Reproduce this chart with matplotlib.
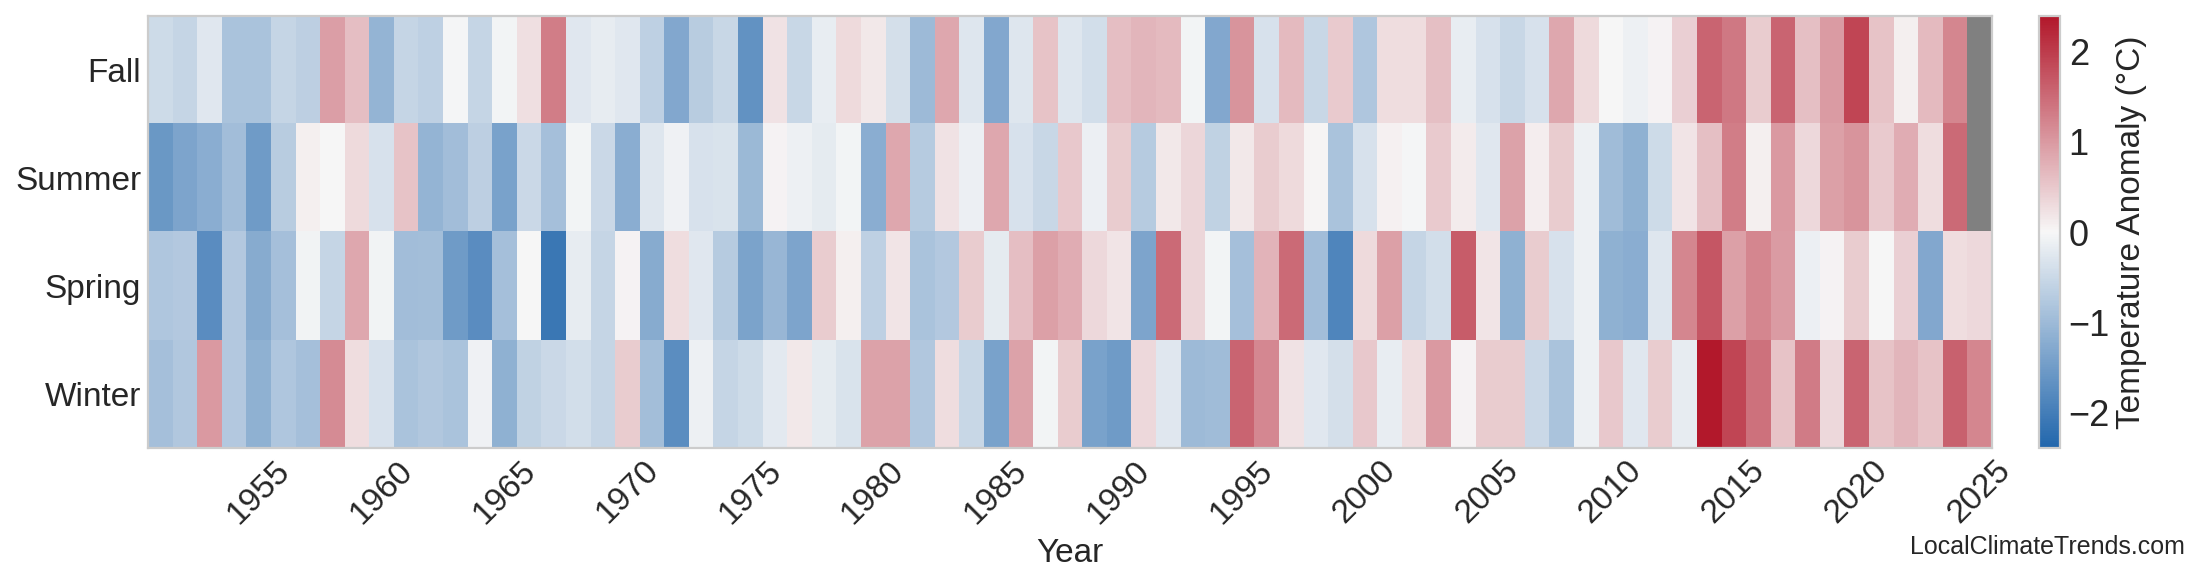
import numpy as np
import matplotlib
matplotlib.use("Agg")
import matplotlib.pyplot as plt
from matplotlib.colors import LinearSegmentedColormap
import seaborn as sns

# --- DATA: seasonal temperature anomaly (°C), 1951-2025 ---
years = list(range(1951, 2026))
seasons = ["Fall", "Summer", "Spring", "Winter"]

fall = [-0.45, -0.55, -0.25, -0.85, -0.85, -0.55, -0.65, 0.95, 0.6, -1.1,
        -0.55, -0.62, -0.03, -0.55, -0.05, 0.25, 1.3, -0.25, -0.18, -0.25,
        -0.62, -1.3, -0.7, -0.52, -1.65, 0.22, -0.52, -0.15, 0.3, 0.15,
        -0.38, -1.0, 0.85, -0.27, -1.3, -0.27, 0.55, -0.27, -0.4, 0.6,
        0.7, 0.65, -0.05, -1.3, 1.05, -0.35, 0.65, -0.52, 0.48, -0.8,
        0.27, 0.27, 0.58, -0.15, -0.35, -0.52, -0.35, 0.85, 0.3, 0.0,
        -0.1, 0.04, 0.42, 1.55, 1.35, 0.45, 1.55, 0.58, 0.98, 1.9,
        0.55, 0.08, 0.65, 1.2, np.nan]
summer = [-1.55, -1.35, -1.2, -0.95, -1.5, -0.7, 0.08, 0.0, 0.3, -0.35,
          0.55, -1.1, -0.95, -0.65, -1.4, -0.5, -0.9, -0.05, -0.5, -1.2,
          -0.27, -0.08, -0.35, -0.32, -1.02, 0.05, -0.1, -0.2, -0.05, -1.2,
          0.85, -0.72, 0.22, -0.12, 0.85, -0.35, -0.52, 0.5, -0.12, 0.45,
          -0.72, 0.15, 0.35, -0.6, 0.15, 0.45, 0.3, 0.02, -0.85, -0.35,
          0.06, -0.02, 0.48, 0.12, -0.25, 0.9, 0.1, 0.45, -0.1, -0.97,
          -1.15, -0.45, 0.2, 0.58, 1.3, 0.08, 1.0, 0.33, 0.93, 1.05,
          0.48, 0.8, 0.27, 1.5, np.nan]
spring = [-0.8, -0.75, -1.75, -0.75, -1.25, -0.9, -0.07, -0.55, 0.85, -0.07,
          -0.95, -0.93, -1.5, -1.75, -0.9, 0.0, -2.1, -0.18, -0.55, 0.05,
          -1.25, 0.27, -0.25, -0.72, -1.38, -1.05, -1.35, 0.45, 0.08, -0.62,
          0.2, -0.85, -0.75, 0.45, -0.2, 0.6, 0.92, 0.8, 0.33, 0.2,
          -1.35, 1.5, 0.35, -0.05, -0.9, 0.72, 1.5, -0.95, -1.85, 0.3,
          0.92, -0.55, -0.4, 1.65, 0.2, -1.15, 0.45, -0.35, -0.1, -1.15,
          -1.2, -0.27, 1.2, 1.7, 0.92, 1.2, 0.98, -0.13, 0.04, 0.45,
          0.0, 0.42, -1.3, 0.27, 0.32]
winter = [-0.9, -0.78, 1.0, -0.75, -1.15, -0.8, -0.9, 1.15, 0.27, -0.35,
          -0.85, -0.77, -0.85, -0.08, -1.15, -0.6, -0.5, -0.4, -0.55, 0.45,
          -0.93, -1.72, -0.1, -0.55, -0.45, -0.22, 0.15, -0.2, -0.32, 0.9,
          0.9, -0.78, 0.27, -0.52, -1.4, 0.9, -0.05, 0.45, -1.4, -1.5,
          0.33, -0.25, -1.0, -0.97, 1.55, 1.18, 0.22, -0.25, -0.38, 0.5,
          -0.15, 0.27, 1.0, 0.04, 0.45, 0.45, -0.5, -0.85, -0.1, 0.5,
          -0.25, 0.45, -0.18, 2.39, 1.9, 1.42, 0.55, 1.32, 0.32, 1.55,
          0.55, 0.7, 0.55, 1.6, 1.2]

tick_years = list(range(1955, 2030, 5))

# --- PLOT ---
sns.set_style("whitegrid")
plt.rcParams["font.family"] = ["Liberation Sans", "DejaVu Sans"]
plt.rcParams["axes.grid"] = False

grid = np.ma.masked_invalid(np.array([fall, summer, spring, winter]))
cmap = LinearSegmentedColormap.from_list("anom", ["#2166ac", "#f7f7f7", "#b2182b"])
cmap.set_bad("#808080")
lim = np.nanmax(np.abs(grid))

fig = plt.figure(figsize=(11, 2.925), dpi=200)
ax = fig.add_axes([0.0673, 0.234, 0.838, 0.7385])
cax = fig.add_axes([0.927, 0.234, 0.0095, 0.7385])

im = ax.imshow(grid, aspect="auto", cmap=cmap, vmin=-lim, vmax=lim,
               interpolation="nearest")

ax.set_yticks(range(len(seasons)))
ax.set_yticklabels(seasons, fontsize=12)
ax.set_xticks([years.index(y) for y in tick_years])
ax.set_xticklabels(tick_years, rotation=45, fontsize=12)
ax.tick_params(length=0, pad=2.5)
ax.set_xlabel("Year", fontsize=12, labelpad=3)
for s in ax.spines.values():
    s.set_color("#cccccc")

cb = fig.colorbar(im, cax=cax)
cb.set_label("Temperature Anomaly (°C)", fontsize=12, labelpad=2)
cb.ax.tick_params(labelsize=13, length=0, pad=3)
cb.outline.set_edgecolor("#cccccc")

fig.text(0.993, 0.045, "LocalClimateTrends.com", ha="right", va="bottom", fontsize=9)

plt.savefig("out.png", dpi=200)
